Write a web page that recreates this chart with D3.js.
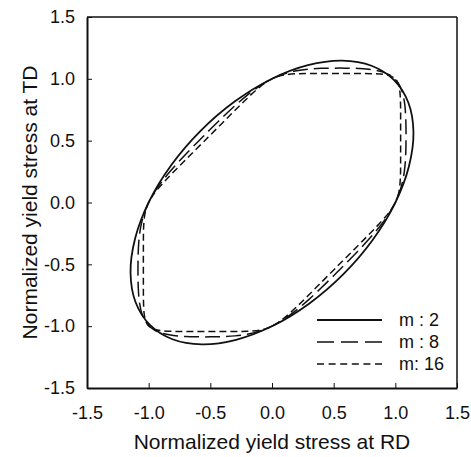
<!DOCTYPE html>
<html>
<head>
<meta charset="utf-8">
<script src="https://cdn.jsdelivr.net/npm/d3@7"></script>
<style>
  body { margin: 0; background: #fff; }
  svg text { font-family: "Liberation Sans", Arial, sans-serif; fill: #111; }
</style>
</head>
<body>
<div id="chart"></div>
<script>
// yield locus points [RD, TD]
var locusM2 = [
  [0.990, 0.990], [0.807, 1.106], [0.568, 1.147], [0.291, 1.110], [-0.007, 0.997], [-0.303, 0.816],
  [-0.579, 0.579], [-0.816, 0.303], [-0.997, 0.007], [-1.110, -0.291], [-1.147, -0.568], [-1.106, -0.807],
  [-0.990, -0.990], [-0.807, -1.106], [-0.568, -1.147], [-0.291, -1.110], [0.007, -0.997], [0.303, -0.816],
  [0.579, -0.579], [0.816, -0.303], [0.997, -0.007], [1.110, 0.291], [1.147, 0.568], [1.106, 0.807]
];

var locusM8 = [
  [1, 0], [1.0223, 0.05], [1.040, 0.1], [1.065, 0.2], [1.0785, 0.3], [1.0846, 0.4], [1.0865, 0.5],
  [1.0864, 0.6], [1.0837, 0.7], [1.0757, 0.8], [1.0545, 0.9], [1.033, 0.95], [1.013, 0.98],
  [0.9975, 0.9975], [0.98, 1.013], [0.95, 1.033], [0.9, 1.0545], [0.8, 1.0757], [0.7, 1.0837],
  [0.6, 1.0864], [0.5, 1.0865], [0.4, 1.0846], [0.3, 1.0785], [0.2, 1.065], [0.1, 1.040], [0.05, 1.0223],
  [0, 1], [-0.05, 0.9733], [-0.1, 0.9424], [-0.2, 0.8688], [-0.3, 0.7831], [-0.4, 0.6897], [-0.5, 0.592],
  [-0.546, 0.546], [-0.592, 0.5], [-0.6897, 0.4], [-0.7831, 0.3], [-0.8688, 0.2], [-0.9424, 0.1], [-0.9733, 0.05],
  [-1, 0], [-1.0223, -0.05], [-1.040, -0.1], [-1.065, -0.2], [-1.0785, -0.3], [-1.0846, -0.4], [-1.0865, -0.5],
  [-1.0864, -0.6], [-1.0837, -0.7], [-1.0757, -0.8], [-1.0545, -0.9], [-1.033, -0.95], [-1.013, -0.98],
  [-0.9975, -0.9975], [-0.98, -1.013], [-0.95, -1.033], [-0.9, -1.0545], [-0.8, -1.0757], [-0.7, -1.0837],
  [-0.6, -1.0864], [-0.5, -1.0865], [-0.4, -1.0846], [-0.3, -1.0785], [-0.2, -1.065], [-0.1, -1.040], [-0.05, -1.0223],
  [0, -1], [0.05, -0.9733], [0.1, -0.9424], [0.2, -0.8688], [0.3, -0.7831], [0.4, -0.6897], [0.5, -0.592],
  [0.546, -0.546], [0.592, -0.5], [0.6897, -0.4], [0.7831, -0.3], [0.8688, -0.2], [0.9424, -0.1], [0.9733, -0.05]
];

var locusM16 = [
  [1, 0], [1.0199, 0.05], [1.0318, 0.1], [1.0409, 0.2], [1.0427, 0.3], [1.0429, 0.4], [1.0430, 0.5],
  [1.0429, 0.6], [1.0429, 0.7], [1.0420, 0.8], [1.0365, 0.9], [1.0265, 0.95], [1.0134, 0.98], [1.0065, 0.99],
  [0.9987, 0.9987], [0.99, 1.0065], [0.98, 1.0134], [0.95, 1.0265], [0.9, 1.0365], [0.8, 1.0420], [0.7, 1.0429],
  [0.6, 1.0429], [0.5, 1.0430], [0.4, 1.0429], [0.3, 1.0427], [0.2, 1.0409], [0.1, 1.0318], [0.05, 1.0199],
  [0, 1], [-0.05, 0.9709], [-0.1, 0.9335], [-0.2, 0.8434], [-0.3, 0.7453], [-0.4, 0.6456], [-0.5, 0.5456],
  [-0.5228, 0.5228], [-0.5456, 0.5], [-0.6456, 0.4], [-0.7453, 0.3], [-0.8434, 0.2], [-0.9335, 0.1], [-0.9709, 0.05],
  [-1, 0], [-1.0199, -0.05], [-1.0318, -0.1], [-1.0409, -0.2], [-1.0427, -0.3], [-1.0429, -0.4], [-1.0430, -0.5],
  [-1.0429, -0.6], [-1.0429, -0.7], [-1.0420, -0.8], [-1.0365, -0.9], [-1.0265, -0.95], [-1.0134, -0.98], [-1.0065, -0.99],
  [-0.9987, -0.9987], [-0.99, -1.0065], [-0.98, -1.0134], [-0.95, -1.0265], [-0.9, -1.0365], [-0.8, -1.0420], [-0.7, -1.0429],
  [-0.6, -1.0429], [-0.5, -1.0430], [-0.4, -1.0429], [-0.3, -1.0427], [-0.2, -1.0409], [-0.1, -1.0318], [-0.05, -1.0199],
  [0, -1], [0.05, -0.9709], [0.1, -0.9335], [0.2, -0.8434], [0.3, -0.7453], [0.4, -0.6456], [0.5, -0.5456],
  [0.5228, -0.5228], [0.5456, -0.5], [0.6456, -0.4], [0.7453, -0.3], [0.8434, -0.2], [0.9335, -0.1], [0.9709, -0.05]
];

var seriesNames = ['m : 2', 'm : 8', 'm: 16'];
var tickValues = [-1.5, -1.0, -0.5, 0.0, 0.5, 1.0, 1.5];
var xTitle = 'Normalized yield stress at RD';
var yTitle = 'Normalized yield stress at TD';

var width = 471, height = 457;
var plotL = 87, plotR = 457, plotT = 17, plotB = 388;

var svg = d3.select('#chart').append('svg')
  .attr('width', width)
  .attr('height', height);

var x = d3.scaleLinear().domain([-1.5, 1.5]).range([plotL, plotR]);
var y = d3.scaleLinear().domain([-1.5, 1.5]).range([plotB, plotT]);

// plain hyphen for negatives, like the original
var fmt = d3.formatLocale({ decimal: '.', thousands: ',', grouping: [3], currency: ['', ''], minus: '-' }).format('.1f');

var xAxis = d3.axisBottom(x).tickValues(tickValues).tickFormat(fmt)
  .tickSizeInner(-5).tickSizeOuter(0).tickPadding(18);
var yAxis = d3.axisLeft(y).tickValues(tickValues).tickFormat(fmt)
  .tickSizeInner(-5).tickSizeOuter(0).tickPadding(12);

var gx = svg.append('g').attr('transform', 'translate(0,' + plotB + ')').call(xAxis);
var gy = svg.append('g').attr('transform', 'translate(' + plotL + ',0)').call(yAxis);

[gx, gy].forEach(function(g) {
  g.select('.domain').attr('stroke', '#111').attr('stroke-width', 2);
  g.selectAll('.tick line').attr('stroke', '#111').attr('stroke-width', 1);
  g.selectAll('.tick text')
    .style('font-family', '"Liberation Sans", Arial, sans-serif')
    .style('font-size', '18px')
    .attr('fill', '#111');
});

// top and right frame
svg.append('line').attr('x1', plotL).attr('x2', plotR).attr('y1', plotT).attr('y2', plotT)
  .attr('stroke', '#111').attr('stroke-width', 1.5);
svg.append('line').attr('x1', plotR).attr('x2', plotR).attr('y1', plotT).attr('y2', plotB)
  .attr('stroke', '#111').attr('stroke-width', 1.5);

var line = d3.line()
  .x(function(d) { return x(d[0]); })
  .y(function(d) { return y(d[1]); })
  .curve(d3.curveCatmullRomClosed.alpha(0.5));

var styles = [
  { data: locusM2, dash: null, legendDash: null, w: 1.8 },
  { data: locusM8, dash: '15,6', legendDash: '17,7', w: 1.5 },
  { data: locusM16, dash: '7,4', legendDash: '7,4.6', w: 1.5 }
];

styles.forEach(function(s) {
  svg.append('path')
    .datum(s.data)
    .attr('d', line)
    .attr('fill', 'none')
    .attr('stroke', '#111')
    .attr('stroke-width', s.w)
    .attr('stroke-dasharray', s.dash);
});

// legend
var legend = svg.append('g').attr('transform', 'translate(317,320)');
seriesNames.forEach(function(name, i) {
  var row = legend.append('g').attr('transform', 'translate(0,' + (i * 22) + ')');
  row.append('line')
    .attr('x1', 0).attr('x2', 65)
    .attr('stroke', '#111')
    .attr('stroke-width', styles[i].w)
    .attr('stroke-dasharray', styles[i].legendDash);
  row.append('text')
    .attr('x', 82).attr('y', 6)
    .style('font-size', '18px')
    .text(name);
});

svg.append('text')
  .attr('x', (plotL + plotR) / 2)
  .attr('y', 449)
  .attr('text-anchor', 'middle')
  .style('font-size', '21px')
  .text(xTitle);

svg.append('text')
  .attr('transform', 'translate(37,' + ((plotT + plotB) / 2) + ') rotate(-90)')
  .attr('text-anchor', 'middle')
  .style('font-size', '21px')
  .text(yTitle);
</script>
</body>
</html>
